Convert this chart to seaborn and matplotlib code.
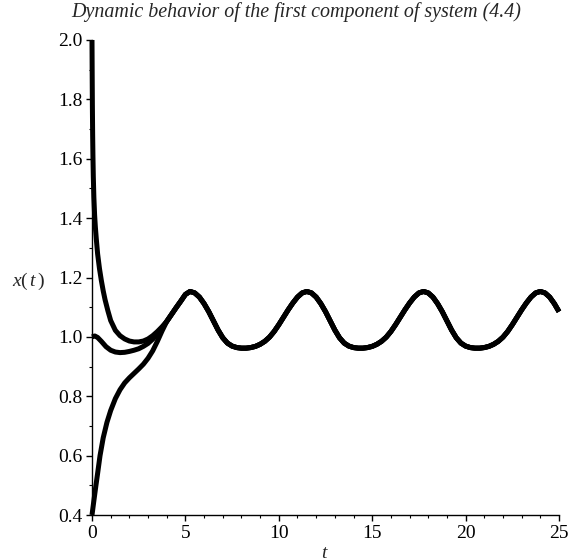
import numpy as np
import pandas as pd
import matplotlib
matplotlib.use("Agg")
import matplotlib.pyplot as plt
import seaborn as sns

# Early transients of the three solutions x(t) (start values 2.0, 1.0 and 0.4)
T_HIGH = [0.00, 0.01, 0.02, 0.035, 0.05, 0.07, 0.10, 0.14, 0.18, 0.23, 0.30,
          0.40, 0.50, 0.60, 0.70, 0.85, 1.00, 1.25, 1.50, 1.75, 2.00, 2.25,
          2.50, 2.75, 3.00, 3.25, 3.50, 3.75]
X_HIGH = [2.000, 1.880, 1.780, 1.680, 1.610, 1.540, 1.470, 1.410, 1.370, 1.330,
          1.280, 1.230, 1.190, 1.155, 1.125, 1.088, 1.055, 1.022, 1.004, 0.993,
          0.986, 0.983, 0.983, 0.986, 0.993, 1.004, 1.018, 1.034]

T_MID = [0.00, 0.15, 0.30, 0.50, 0.75, 1.00, 1.25, 1.50, 1.75, 2.00, 2.25,
         2.50, 2.75, 3.00, 3.25, 3.50, 3.75]
X_MID = [1.000, 1.003, 0.998, 0.985, 0.967, 0.955, 0.949, 0.947, 0.948, 0.951,
         0.955, 0.960, 0.968, 0.978, 0.992, 1.010, 1.030]

T_LOW = [0.00, 0.10, 0.20, 0.30, 0.43, 0.60, 0.80, 1.00, 1.25, 1.50, 1.75,
         2.00, 2.25, 2.50, 2.75, 3.00, 3.25, 3.50, 3.75]
X_LOW = [0.400, 0.448, 0.495, 0.540, 0.600, 0.660, 0.712, 0.752, 0.792, 0.822,
         0.845, 0.862, 0.877, 0.892, 0.908, 0.928, 0.953, 0.985, 1.020]

# Common oscillation once the solutions have merged (t = 4.0 ... 25.0, step 0.25)
T_TAIL = np.arange(4.0, 25.001, 0.25)
X_TAIL = [
    1.052, 1.075, 1.098, 1.120, 1.143,
    # t = 5.25 ... 11.25
    1.153, 1.148, 1.134, 1.112, 1.085, 1.054, 1.023, 0.997, 0.979, 0.969,
    0.964, 0.962, 0.962, 0.964, 0.968, 0.975, 0.985, 0.999, 1.018, 1.041,
    1.066, 1.091, 1.114, 1.134, 1.148,
    # t = 11.5 ... 17.5
    1.153, 1.148, 1.134, 1.112, 1.085, 1.054, 1.023, 0.997, 0.979, 0.969,
    0.964, 0.962, 0.962, 0.964, 0.968, 0.975, 0.985, 0.999, 1.018, 1.041,
    1.066, 1.091, 1.114, 1.134, 1.148,
    # t = 17.75 ... 23.75
    1.153, 1.148, 1.134, 1.112, 1.085, 1.054, 1.023, 0.997, 0.979, 0.969,
    0.964, 0.962, 0.962, 0.964, 0.968, 0.975, 0.985, 0.999, 1.018, 1.041,
    1.066, 1.091, 1.114, 1.134, 1.148,
    # t = 24.0 ... 25.0
    1.153, 1.148, 1.134, 1.112, 1.085,
]

X_TICKS = [0, 5, 10, 15, 20, 25]
Y_TICKS = [0.4, 0.6, 0.8, 1.0, 1.2, 1.4, 1.6, 1.8, 2.0]
TITLE = "Dynamic behavior of the first component of system (4.4)"

sns.set_style("ticks")
plt.rcParams["font.family"] = ["Liberation Serif", "DejaVu Serif"]
plt.rcParams["mathtext.fontset"] = "custom"
plt.rcParams["mathtext.rm"] = "Liberation Serif"
plt.rcParams["mathtext.it"] = "Liberation Serif:italic"

rows = []
for name, tt, xx in (("high", T_HIGH, X_HIGH), ("mid", T_MID, X_MID),
                     ("low", T_LOW, X_LOW)):
    t_all = list(tt) + list(T_TAIL)
    x_all = list(xx) + list(X_TAIL)
    rows.append(pd.DataFrame({"t": t_all, "x": x_all, "run": name}))
df = pd.concat(rows, ignore_index=True)

fig = plt.figure(figsize=(5.78, 5.60), dpi=100)
ax = fig.add_axes([92 / 578, 45 / 560, 467 / 578, 475 / 560])

for name in ("high", "mid", "low"):
    sub = df[df["run"] == name]
    sns.lineplot(data=sub, x="t", y="x", ax=ax, sort=False, estimator=None,
                 color="black", linewidth=3.6, legend=False)
for ln in ax.lines:
    ln.set_clip_on(False)
    ln.set_solid_capstyle("butt")
    ln.set_solid_joinstyle("round")

ax.set_xlim(0, 25)
ax.set_ylim(0.4, 2.0)
ax.set_xticks(X_TICKS)
ax.set_xticklabels([str(v) for v in X_TICKS])
ax.set_yticks(Y_TICKS)
ax.set_yticklabels([f"{v:.1f}" for v in Y_TICKS])
ax.set_xticks(np.arange(0, 25.01, 1), minor=True)
ax.set_yticks(np.arange(0.4, 2.001, 0.1), minor=True)

for s in ("top", "right"):
    ax.spines[s].set_visible(False)
for s in ("left", "bottom"):
    ax.spines[s].set_color("black")
    ax.spines[s].set_linewidth(1.0)

ax.tick_params(axis="both", which="major", direction="out", length=4,
               width=1.0, color="black", labelsize=14, labelcolor="black")
ax.tick_params(axis="both", which="minor", direction="out", length=2.5,
               width=0.8, color="black")
ax.tick_params(axis="x", which="major", pad=3)
ax.tick_params(axis="y", which="major", pad=3)

ax.set_xlabel("")
ax.set_ylabel("")
fig.text(29 / 578, 1 - 281 / 560, r"$x(\,t\,)$", fontsize=14,
         ha="center", va="center")
fig.text(325 / 578, 1 - 553 / 560, r"$t$", fontsize=14,
         ha="center", va="center")
fig.text(296 / 578, 1 - 12 / 560, TITLE, fontsize=14.4, style="italic",
         ha="center", va="center")

fig.savefig("out.png", dpi=100, facecolor="white")
